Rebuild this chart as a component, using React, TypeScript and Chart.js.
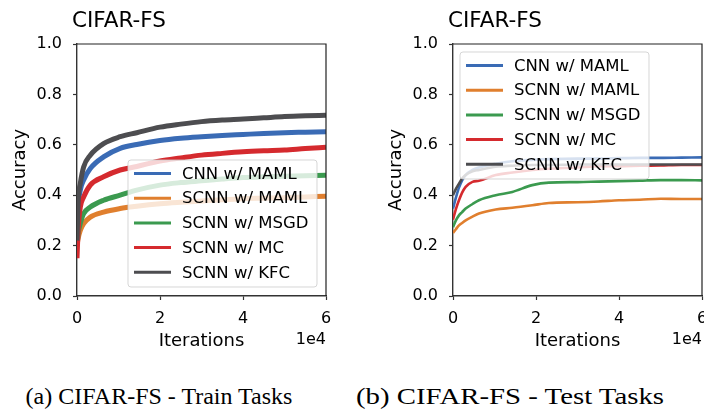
import React, { useEffect, useRef } from "react";
import { Chart, registerables } from "chart.js";

Chart.register(...registerables);

// ---------- DATA ----------
const seriesLabels = ["CNN w/ MAML", "SCNN w/ MAML", "SCNN w/ MSGD", "SCNN w/ MC", "SCNN w/ KFC"];
const seriesColors = ["#3a6bb5", "#e07f2e", "#3b9a4f", "#d52a2e", "#4d4d50"];

const panelTitle = "CIFAR-FS";
const xAxisLabel = "Iterations";
const yAxisLabel = "Accuracy";
const xOffsetText = "1e4";
const captions = ["(a) CIFAR-FS - Train Tasks", "(b) CIFAR-FS - Test Tasks"];

// Train tasks
const trainIters = [0, 300, 800, 1600, 3200, 6400, 10400, 14400, 20000, 25000, 30000, 35000, 40000, 45000, 50000, 55000, 60000];
const trainCnnMaml = [0.2, 0.35, 0.42, 0.46, 0.506, 0.552, 0.586, 0.601, 0.617, 0.626, 0.632, 0.637, 0.641, 0.645, 0.648, 0.65, 0.652];
const trainScnnMaml = [0.2, 0.23, 0.26, 0.287, 0.313, 0.333, 0.347, 0.356, 0.366, 0.372, 0.377, 0.382, 0.386, 0.388, 0.39, 0.393, 0.396];
const trainScnnMsgd = [0.2, 0.25, 0.288, 0.327, 0.353, 0.38, 0.4, 0.42, 0.44, 0.45, 0.457, 0.464, 0.47, 0.473, 0.475, 0.477, 0.479];
const trainScnnMc = [0.15, 0.27, 0.353, 0.393, 0.44, 0.473, 0.5, 0.514, 0.536, 0.548, 0.559, 0.566, 0.572, 0.576, 0.579, 0.585, 0.59];
const trainScnnKfc = [0.22, 0.38, 0.447, 0.512, 0.559, 0.605, 0.632, 0.648, 0.67, 0.682, 0.692, 0.698, 0.702, 0.707, 0.712, 0.715, 0.717];

// Test tasks
const testIters = [0, 700, 1440, 2200, 3050, 4700, 6260, 10300, 14300, 19100, 23100, 30000, 35000, 40000, 45000, 50000, 55000, 60000];
const testCnnMaml = [0.347, 0.39, 0.43, 0.459, 0.48, 0.5, 0.51, 0.525, 0.535, 0.54, 0.543, 0.545, 0.545, 0.547, 0.548, 0.548, 0.549, 0.55];
const testScnnMaml = [0.25, 0.265, 0.28, 0.29, 0.3, 0.315, 0.327, 0.343, 0.35, 0.36, 0.369, 0.372, 0.375, 0.38, 0.382, 0.386, 0.385, 0.385];
const testScnnMsgd = [0.273, 0.3, 0.32, 0.333, 0.347, 0.365, 0.38, 0.4, 0.413, 0.44, 0.45, 0.452, 0.454, 0.456, 0.458, 0.46, 0.46, 0.459];
const testScnnMc = [0.303, 0.345, 0.38, 0.41, 0.433, 0.453, 0.457, 0.48, 0.49, 0.5, 0.505, 0.51, 0.515, 0.515, 0.517, 0.518, 0.52, 0.52];
const testScnnKfc = [0.4, 0.425, 0.446, 0.466, 0.48, 0.495, 0.5, 0.513, 0.517, 0.52, 0.52, 0.522, 0.522, 0.522, 0.522, 0.522, 0.522, 0.522];

const xTickStep = 20000;
const yTickStep = 0.2;

const FONT = "'DejaVu Sans', sans-serif";

type PanelSpec = {
  iters: number[];
  series: number[][];
  lineWidth: number;
  yAxisWidth: number;
  padRight: number;
  canvasWidth: number;
  legendCorner: "bottomRight" | "topLeft";
};

function makeDecorPlugin(spec: PanelSpec) {
  return {
    id: "decor",
    afterDatasetsDraw(chart: any) {
      const ctx = chart.ctx as CanvasRenderingContext2D;
      const a = chart.chartArea;
      const w = 189;
      const h = 127;
      let lx: number, ly: number;
      if (spec.legendCorner === "bottomRight") {
        lx = a.right - 9 - w;
        ly = a.bottom - 9 - h;
      } else {
        lx = a.left + 7;
        ly = a.top + 8;
      }
      ctx.save();
      ctx.beginPath();
      const r = 3;
      ctx.moveTo(lx + r, ly);
      ctx.arcTo(lx + w, ly, lx + w, ly + h, r);
      ctx.arcTo(lx + w, ly + h, lx, ly + h, r);
      ctx.arcTo(lx, ly + h, lx, ly, r);
      ctx.arcTo(lx, ly, lx + w, ly, r);
      ctx.closePath();
      ctx.fillStyle = "rgba(255,255,255,0.8)";
      ctx.fill();
      ctx.strokeStyle = "rgba(204,204,204,0.8)";
      ctx.lineWidth = 1;
      ctx.stroke();
      ctx.font = `16.5px ${FONT}`;
      ctx.textBaseline = "middle";
      ctx.textAlign = "left";
      seriesLabels.forEach((lab, i) => {
        const y = ly + 13.5 + i * 24.7;
        ctx.strokeStyle = seriesColors[i];
        ctx.lineWidth = 3;
        ctx.lineCap = "butt";
        ctx.beginPath();
        ctx.moveTo(lx + 6, y);
        ctx.lineTo(lx + 43, y);
        ctx.stroke();
        ctx.fillStyle = "#000";
        ctx.fillText(lab, lx + 54, y + 1);
      });
      ctx.restore();
    },
    afterDraw(chart: any) {
      const ctx = chart.ctx as CanvasRenderingContext2D;
      const a = chart.chartArea;
      ctx.save();
      // top & right spines
      ctx.strokeStyle = "#222";
      ctx.lineWidth = 1.2;
      ctx.beginPath();
      ctx.moveTo(a.left, a.top);
      ctx.lineTo(a.right, a.top);
      ctx.lineTo(a.right, a.bottom);
      ctx.stroke();
      ctx.fillStyle = "#000";
      // title
      ctx.font = `21.5px ${FONT}`;
      ctx.textAlign = "left";
      ctx.textBaseline = "alphabetic";
      ctx.fillText(panelTitle, a.left - 5, 27);
      // x label
      ctx.font = `18px ${FONT}`;
      ctx.textAlign = "center";
      ctx.fillText(xAxisLabel, (a.left + a.right) / 2, 345.5);
      // offset text
      ctx.font = `16px ${FONT}`;
      ctx.textAlign = "right";
      ctx.fillText(xOffsetText, a.right, 343.5);
      // y label
      ctx.font = `18px ${FONT}`;
      ctx.translate(a.left - 57, (a.top + a.bottom) / 2);
      ctx.rotate(-Math.PI / 2);
      ctx.textAlign = "center";
      ctx.textBaseline = "middle";
      ctx.fillText(yAxisLabel, 0, 0);
      ctx.restore();
    },
  };
}

function Panel({ spec, left }: { spec: PanelSpec; left: number }) {
  const ref = useRef<HTMLCanvasElement | null>(null);
  useEffect(() => {
    if (!ref.current) return;
    const n = seriesLabels.length;
    const chart = new Chart(ref.current, {
      type: "line",
      data: {
        datasets: spec.series.map((vals, i) => ({
          label: seriesLabels[i],
          data: spec.iters.map((x, j) => ({ x, y: vals[j] })),
          borderColor: seriesColors[i],
          backgroundColor: seriesColors[i],
          borderWidth: spec.lineWidth,
          pointRadius: 0,
          cubicInterpolationMode: "monotone",
          order: n - 1 - i,
        })),
      },
      options: {
        responsive: false,
        animation: false,
        devicePixelRatio: 1,
        layout: { padding: { top: 44, right: spec.padRight, left: 0, bottom: 0 } },
        plugins: { legend: { display: false }, tooltip: { enabled: false }, title: { display: false } },
        scales: {
          x: {
            type: "linear",
            min: 0,
            max: 60000,
            afterFit: (s: any) => {
              s.height = 64;
            },
            grid: { drawOnChartArea: false, tickLength: 4, tickColor: "#333", tickWidth: 1.2 },
            border: { color: "#333", width: 1.4 },
            ticks: {
              stepSize: xTickStep,
              color: "#000",
              font: { family: FONT, size: 16 },
              padding: 9,
              maxRotation: 0,
              callback: (v: any) => String(Math.round(Number(v) / 10000)),
            },
          },
          y: {
            min: 0,
            max: 1,
            afterFit: (s: any) => {
              s.width = spec.yAxisWidth;
            },
            grid: { drawOnChartArea: false, tickLength: 4, tickColor: "#333", tickWidth: 1.2 },
            border: { color: "#333", width: 1.4 },
            ticks: {
              stepSize: yTickStep,
              color: "#000",
              font: { family: FONT, size: 16 },
              padding: 11,
              callback: (v: any) => Number(v).toFixed(1),
            },
          },
        },
      },
      plugins: [makeDecorPlugin(spec)],
    } as any);
    return () => chart.destroy();
  }, []);
  return (
    <canvas
      ref={ref}
      width={spec.canvasWidth}
      height={360}
      style={{ position: "absolute", left, top: 0, width: spec.canvasWidth, height: 360 }}
    />
  );
}

const trainSpec: PanelSpec = {
  iters: trainIters,
  series: [trainCnnMaml, trainScnnMaml, trainScnnMsgd, trainScnnMc, trainScnnKfc],
  lineWidth: 5,
  yAxisWidth: 77,
  padRight: 26,
  canvasWidth: 352,
  legendCorner: "bottomRight",
};

const testSpec: PanelSpec = {
  iters: testIters,
  series: [testCnnMaml, testScnnMaml, testScnnMsgd, testScnnMc, testScnnKfc],
  lineWidth: 2.6,
  yAxisWidth: 101,
  padRight: 22,
  canvasWidth: 372,
  legendCorner: "topLeft",
};

export default function App() {
  const capStyle: React.CSSProperties = {
    position: "absolute",
    top: 382,
    fontFamily: "'Liberation Serif', 'Times New Roman', serif",
    fontSize: 24,
    lineHeight: "28px",
    whiteSpace: "nowrap",
    color: "#000",
  };
  return (
    <div
      style={{
        position: "absolute",
        left: 0,
        top: 0,
        width: 704,
        height: 411,
        overflow: "hidden",
        background: "#fff",
      }}
    >
      <Panel spec={trainSpec} left={0} />
      <Panel spec={testSpec} left={352} />
      <div style={{ ...capStyle, left: 159, transform: "translateX(-50%)" }}>{captions[0]}</div>
      <div style={{ ...capStyle, left: 510, transform: "translateX(-50%) scaleX(1.2)" }}>{captions[1]}</div>
    </div>
  );
}
